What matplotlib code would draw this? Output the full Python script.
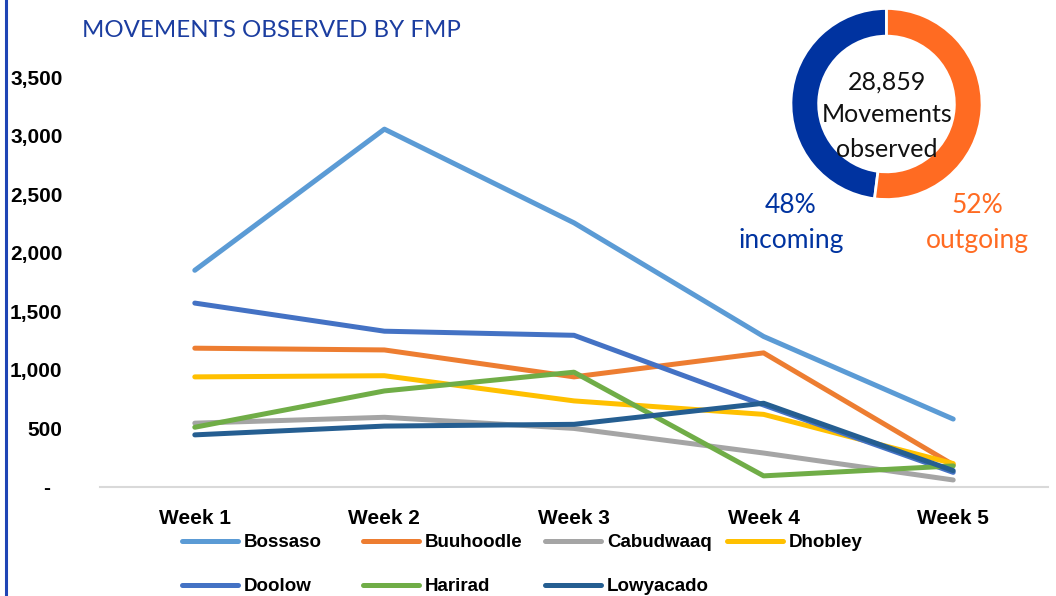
import matplotlib
matplotlib.use("Agg")
import matplotlib.pyplot as plt
from matplotlib.lines import Line2D

# weekly movements per flow monitoring point
weeks = ["Week 1", "Week 2", "Week 3", "Week 4", "Week 5"]
bossaso = [1850, 3055, 2255, 1285, 580]
buuhoodle = [1185, 1170, 940, 1145, 190]
cabudwaaq = [545, 595, 500, 290, 60]
dhobley = [940, 950, 735, 620, 200]
doolow = [1570, 1330, 1295, 700, 125]
harirad = [510, 820, 980, 95, 180]
lowyacado = [445, 520, 535, 715, 140]

names = ["Bossaso", "Buuhoodle", "Cabudwaaq", "Dhobley", "Doolow", "Harirad", "Lowyacado"]
series = [bossaso, buuhoodle, cabudwaaq, dhobley, doolow, harirad, lowyacado]
colors = ["#5B9BD5", "#ED7D31", "#A5A5A5", "#FFC000", "#4472C4", "#70AD47", "#255E91"]

# donut summary
total_moves = "28,859"
flow_labels = ["incoming", "outgoing"]
flow_share = [48, 52]
flow_colors = ["#0033A0", "#FF6B22"]

W, H = 1056, 596
fig = plt.figure(figsize=(W / 100, H / 100), dpi=100)

# main line chart
ax = fig.add_axes([100 / W, (H - 487) / H, 948 / W, 410 / H])
x = list(range(len(weeks)))
lines = []
for name, vals, c in zip(names, series, colors):
    ln, = ax.plot(x, vals, color=c, lw=3.6, solid_capstyle="round",
                  solid_joinstyle="round", label=name)
    lines.append(ln)

ax.set_xlim(-0.5, 4.5)
ax.set_ylim(0, 3500)
ax.set_yticks(range(0, 3501, 500))
ax.set_yticklabels(["-  "] + [f"{v:,}" for v in range(500, 3501, 500)])
ax.set_xticks(x)
ax.set_xticklabels(weeks)
for s in ["top", "right", "left"]:
    ax.spines[s].set_visible(False)
ax.spines["bottom"].set_color("#D9D9D9")
ax.spines["bottom"].set_linewidth(1.5)
ax.tick_params(length=0)
ax.tick_params(axis="y", pad=27)
ax.tick_params(axis="x", pad=16)
for t in ax.get_yticklabels() + ax.get_xticklabels():
    t.set_fontfamily("Liberation Sans")
    t.set_fontweight("bold")
    t.set_fontsize(15)

# legend: one small legend per column so the pitch stays even
col_x = [182, 363, 545, 727]
for j, cx in enumerate(col_x):
    hs = [lines[j]] + ([lines[j + 4]] if j + 4 < len(lines) else [])
    fig.legend(hs, [h.get_label() for h in hs], loc="upper left",
               bbox_to_anchor=(cx / W, (H - 534) / H), frameon=False,
               borderpad=0, borderaxespad=0, handlelength=3.0,
               handletextpad=0.3, labelspacing=1.45,
               prop={"family": "Liberation Sans", "weight": "bold", "size": 13.5})

# title and left border
fig.text(82 / W, (H - 37) / H, "MOVEMENTS OBSERVED BY FMP", color="#1B3DA0",
         fontsize=17.3, fontfamily="Lato", ha="left", va="baseline")
fig.add_artist(Line2D([6 / W, 6 / W], [0, 1], color="#1F45B5", lw=2.2))

# donut
dax = fig.add_axes([(886.5 - 96.5) / W, (H - 104 - 96.5) / H, 193 / W, 193 / H])
dax.pie(flow_share, colors=flow_colors, startangle=90, counterclock=True,
        wedgeprops={"width": 0.29, "edgecolor": "white", "linewidth": 2})
dax.set_xlim(-1.01, 1.01)
dax.set_ylim(-1.01, 1.01)
dax.set_aspect("equal")

for txt, base in zip([total_moves, "Movements", "observed"], [90, 122, 157]):
    fig.text(887 / W, (H - base) / H, txt, ha="center", va="baseline",
             fontsize=18, fontfamily="Lato", color="#111111")

for cx, share, lab, c in zip([791, 977], flow_share, flow_labels, flow_colors):
    fig.text(cx / W, (H - 213) / H, f"{share}%", ha="center", va="baseline",
             fontsize=19, fontfamily="Lato", color=c)
    fig.text(cx / W, (H - 248) / H, lab, ha="center", va="baseline",
             fontsize=19, fontfamily="Lato", color=c)

fig.savefig("out.png", dpi=100)
